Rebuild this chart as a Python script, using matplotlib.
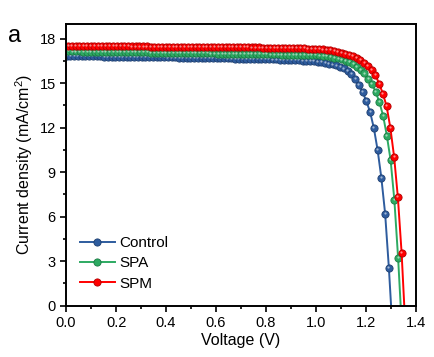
import numpy as np
import matplotlib
matplotlib.use('Agg')
import matplotlib.pyplot as plt
from matplotlib.ticker import MultipleLocator

plt.rcParams['font.family'] = ['Liberation Sans', 'DejaVu Sans']
plt.rcParams['mathtext.fontset'] = 'custom'
plt.rcParams['mathtext.rm'] = 'Liberation Sans'

# scan step (V) and start voltage of each J-V sweep
step = 0.015
start_ctrl = 0.002
start_spa = -0.006
start_spm = 0.008

# current density (mA/cm2)
j_ctrl = [
    16.85, 16.85, 16.84, 16.84, 16.83, 16.83, 16.82, 16.82, 16.81, 16.81,
    16.80, 16.80, 16.80, 16.79, 16.79, 16.78, 16.78, 16.78, 16.77, 16.77,
    16.77, 16.76, 16.76, 16.76, 16.75, 16.75, 16.75, 16.74, 16.74, 16.74,
    16.73, 16.73, 16.72, 16.72, 16.72, 16.71, 16.71, 16.70, 16.70, 16.69,
    16.69, 16.68, 16.68, 16.67, 16.67, 16.66, 16.66, 16.65, 16.65, 16.64,
    16.64, 16.63, 16.62, 16.62, 16.61, 16.60, 16.60, 16.59, 16.58, 16.57,
    16.56, 16.55, 16.54, 16.53, 16.52, 16.50, 16.48, 16.45, 16.42, 16.38,
    16.33, 16.27, 16.20, 16.12, 16.00, 15.83, 15.60, 15.28, 14.88, 14.40,
    13.78, 13.05, 11.96, 10.48, 8.60, 6.20, 2.54, -1.80,
]
j_spa = [
    17.15, 17.15, 17.14, 17.14, 17.14, 17.13, 17.13, 17.13, 17.12, 17.12,
    17.12, 17.11, 17.11, 17.11, 17.10, 17.10, 17.10, 17.09, 17.09, 17.09,
    17.08, 17.08, 17.08, 17.07, 17.07, 17.07, 17.06, 17.06, 17.06, 17.05,
    17.05, 17.05, 17.04, 17.04, 17.03, 17.03, 17.03, 17.02, 17.02, 17.01,
    17.01, 17.00, 17.00, 16.99, 16.99, 16.98, 16.98, 16.97, 16.97, 16.96,
    16.96, 16.96, 16.95, 16.95, 16.95, 16.94, 16.94, 16.94, 16.93, 16.93,
    16.93, 16.92, 16.92, 16.92, 16.91, 16.91, 16.90, 16.89, 16.87, 16.85,
    16.82, 16.78, 16.73, 16.67, 16.60, 16.52, 16.42, 16.28, 16.12, 15.92,
    15.66, 15.30, 14.95, 14.42, 13.72, 12.80, 11.45, 9.80, 7.10, 3.19,
    -1.50,
]
j_spm = [
    17.52, 17.52, 17.52, 17.51, 17.51, 17.51, 17.51, 17.50, 17.50, 17.50,
    17.50, 17.50, 17.49, 17.49, 17.49, 17.49, 17.49, 17.48, 17.48, 17.48,
    17.48, 17.48, 17.47, 17.47, 17.47, 17.47, 17.47, 17.46, 17.46, 17.46,
    17.46, 17.46, 17.45, 17.45, 17.45, 17.45, 17.45, 17.44, 17.44, 17.44,
    17.44, 17.44, 17.43, 17.43, 17.43, 17.43, 17.42, 17.42, 17.42, 17.41,
    17.41, 17.41, 17.40, 17.40, 17.40, 17.39, 17.39, 17.38, 17.38, 17.37,
    17.37, 17.36, 17.36, 17.35, 17.34, 17.33, 17.32, 17.30, 17.28, 17.25,
    17.22, 17.18, 17.13, 17.07, 17.00, 16.92, 16.82, 16.70, 16.55, 16.38,
    16.17, 15.90, 15.55, 14.97, 14.30, 13.44, 11.98, 10.03, 7.30, 3.55,
    -1.50,
]

labels = ['Control', 'SPA', 'SPM']
colors = ['#2E5C9E', '#2DAA62', '#FF0000']
edges = ['#1E3F70', '#1D7A44', '#B00000']

v_ctrl = start_ctrl + step * np.arange(len(j_ctrl))
v_spa = start_spa + step * np.arange(len(j_spa))
v_spm = start_spm + step * np.arange(len(j_spm))

fig = plt.figure(figsize=(4.35, 3.57), dpi=100)
ax = fig.add_axes([0.152, 0.144, 0.804, 0.789])

for v, j, lab, c, ec in zip([v_ctrl, v_spa, v_spm], [j_ctrl, j_spa, j_spm],
                            labels, colors, edges):
    ax.plot(v, j, '-o', color=c, lw=1.4, ms=5.2, mfc=c, mec=ec, mew=0.6,
            label=lab)
    # small highlight to give the markers a shaded look
    ax.plot(v - 0.002, np.array(j) + 0.06, 'o', color='white', ms=1.6,
            alpha=0.55, mew=0)

ax.set_xlim(0, 1.4)
ax.set_ylim(0, 19)
ax.xaxis.set_major_locator(MultipleLocator(0.2))
ax.xaxis.set_minor_locator(MultipleLocator(0.1))
ax.yaxis.set_major_locator(MultipleLocator(3))
ax.yaxis.set_minor_locator(MultipleLocator(1.5))
ax.xaxis.set_major_formatter(matplotlib.ticker.FormatStrFormatter('%.1f'))
ax.tick_params(which='both', direction='out', labelsize=10.5, width=1.2)
ax.tick_params(which='major', length=4)
ax.tick_params(which='minor', length=2.5)
for s in ax.spines.values():
    s.set_linewidth(1.4)

ax.set_xlabel('Voltage (V)', fontsize=11.5, labelpad=2)
ax.set_ylabel('Current density (mA/cm$^2$)', fontsize=11.5, labelpad=3)

ax.legend(loc='lower left', bbox_to_anchor=(0.0, 0.004), frameon=False,
          fontsize=11, handlelength=2.3, labelspacing=0.42, handletextpad=0.3)

fig.text(0.018, 0.883, 'a', fontsize=17)

fig.savefig('out.png', dpi=100)
